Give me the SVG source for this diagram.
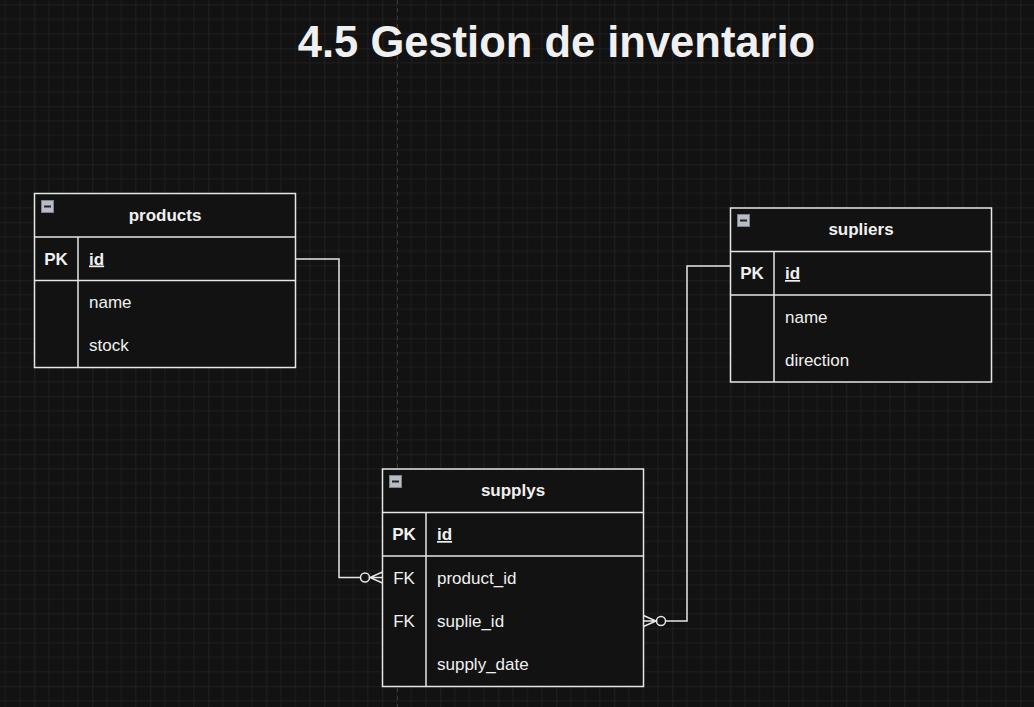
<svg xmlns="http://www.w3.org/2000/svg" width="1034" height="707" viewBox="0 0 1034 707">
<defs>
<pattern id="grid" patternUnits="userSpaceOnUse" x="34.3" y="48.3" width="58" height="58">
<path d="M14.5 0V58M29 0V58M43.5 0V58M0 14.5H58M0 29H58M0 43.5H58" stroke="#1e1e1e" stroke-width="1" fill="none"/>
<path d="M0 0V58M0 0H58" stroke="#2b2b2b" stroke-width="1.2" fill="none"/>
</pattern>
<style>
.box{fill:#121212;stroke:#e6e6e6;stroke-width:1.5}
.ln{stroke:#e6e6e6;stroke-width:1.5;fill:none}
.hd{font-family:"Liberation Sans",Arial,sans-serif;font-size:17px;font-weight:bold;fill:#f0f0f0;text-anchor:middle}
.key{font-family:"Liberation Sans",Arial,sans-serif;font-size:17px;font-weight:bold;fill:#f0f0f0;text-anchor:middle}
.fk{font-family:"Liberation Sans",Arial,sans-serif;font-size:17px;fill:#f0f0f0;text-anchor:middle}
.pkf{font-family:"Liberation Sans",Arial,sans-serif;font-size:17px;font-weight:bold;fill:#f0f0f0;text-decoration:underline}
.fld{font-family:"Liberation Sans",Arial,sans-serif;font-size:17px;fill:#f0f0f0}
.icon{fill:#b8bcc4;stroke:#7d8490;stroke-width:1}
.conn{stroke:#e6e6e6;stroke-width:1.5;fill:none}
.title{font-family:"Liberation Sans",Arial,sans-serif;font-size:43.5px;font-weight:bold;fill:#f0f0f0;text-anchor:middle}
</style>
</defs>
<rect width="1034" height="707" fill="#121212"/>
<rect width="1034" height="707" fill="url(#grid)"/>
<line x1="397.5" y1="0" x2="397.5" y2="707" stroke="#3a3a3a" stroke-width="1" stroke-dasharray="4 4"/>
<text class="title" x="556.5" y="57">4.5 Gestion de inventario</text>

<g id="products">
<rect class="box" x="34.5" y="193.5" width="261" height="174"/>
<line class="ln" x1="34.5" y1="237" x2="295.5" y2="237"/>
<line class="ln" x1="34.5" y1="280.5" x2="295.5" y2="280.5"/>
<line class="ln" x1="78" y1="237" x2="78" y2="367.5"/>
<rect class="icon" x="41.5" y="200.5" width="12" height="12"/>
<line x1="44" y1="206.5" x2="51" y2="206.5" stroke="#222" stroke-width="2"/>
<text class="hd" x="165" y="221">products</text>
<text class="key" x="56" y="264.5">PK</text>
<text class="pkf" x="89" y="264.5">id</text>
<text class="fld" x="89" y="308">name</text>
<text class="fld" x="89" y="351">stock</text>
</g>

<g id="supliers">
<rect class="box" x="730.5" y="208" width="261" height="174"/>
<line class="ln" x1="730.5" y1="251.5" x2="991.5" y2="251.5"/>
<line class="ln" x1="730.5" y1="295" x2="991.5" y2="295"/>
<line class="ln" x1="774" y1="251.5" x2="774" y2="382"/>
<rect class="icon" x="737.5" y="214.5" width="12" height="12"/>
<line x1="740" y1="220.5" x2="747" y2="220.5" stroke="#222" stroke-width="2"/>
<text class="hd" x="861" y="235">supliers</text>
<text class="key" x="752" y="279">PK</text>
<text class="pkf" x="785" y="279">id</text>
<text class="fld" x="785" y="322.5">name</text>
<text class="fld" x="785" y="366">direction</text>
</g>

<g id="supplys">
<rect class="box" x="382.5" y="469" width="261" height="217.5"/>
<line class="ln" x1="382.5" y1="512.5" x2="643.5" y2="512.5"/>
<line class="ln" x1="382.5" y1="556" x2="643.5" y2="556"/>
<line class="ln" x1="426" y1="512.5" x2="426" y2="686.5"/>
<rect class="icon" x="389.5" y="475.5" width="12" height="12"/>
<line x1="392" y1="481.5" x2="399" y2="481.5" stroke="#222" stroke-width="2"/>
<text class="hd" x="513" y="496">supplys</text>
<text class="key" x="404" y="540">PK</text>
<text class="pkf" x="437" y="540">id</text>
<text class="fk" x="404" y="583.5">FK</text>
<text class="fld" x="437" y="583.5">product_id</text>
<text class="fk" x="404" y="627">FK</text>
<text class="fld" x="437" y="627">suplie_id</text>
<text class="fld" x="437" y="670">supply_date</text>
</g>

<g id="connectors">
<path class="conn" d="M295.5 259H339V577.5H360.5"/>
<circle class="conn" cx="365" cy="577.5" r="4.5"/>
<path class="conn" d="M382.5 572L370 577.5L382.5 583M370 577.5H382.5"/>
<path class="conn" d="M730.5 266H687V621H665.5"/>
<circle class="conn" cx="661" cy="621" r="4.5"/>
<path class="conn" d="M643.5 615.5L656 621L643.5 626.5M656 621H643.5"/>
</g>
</svg>
